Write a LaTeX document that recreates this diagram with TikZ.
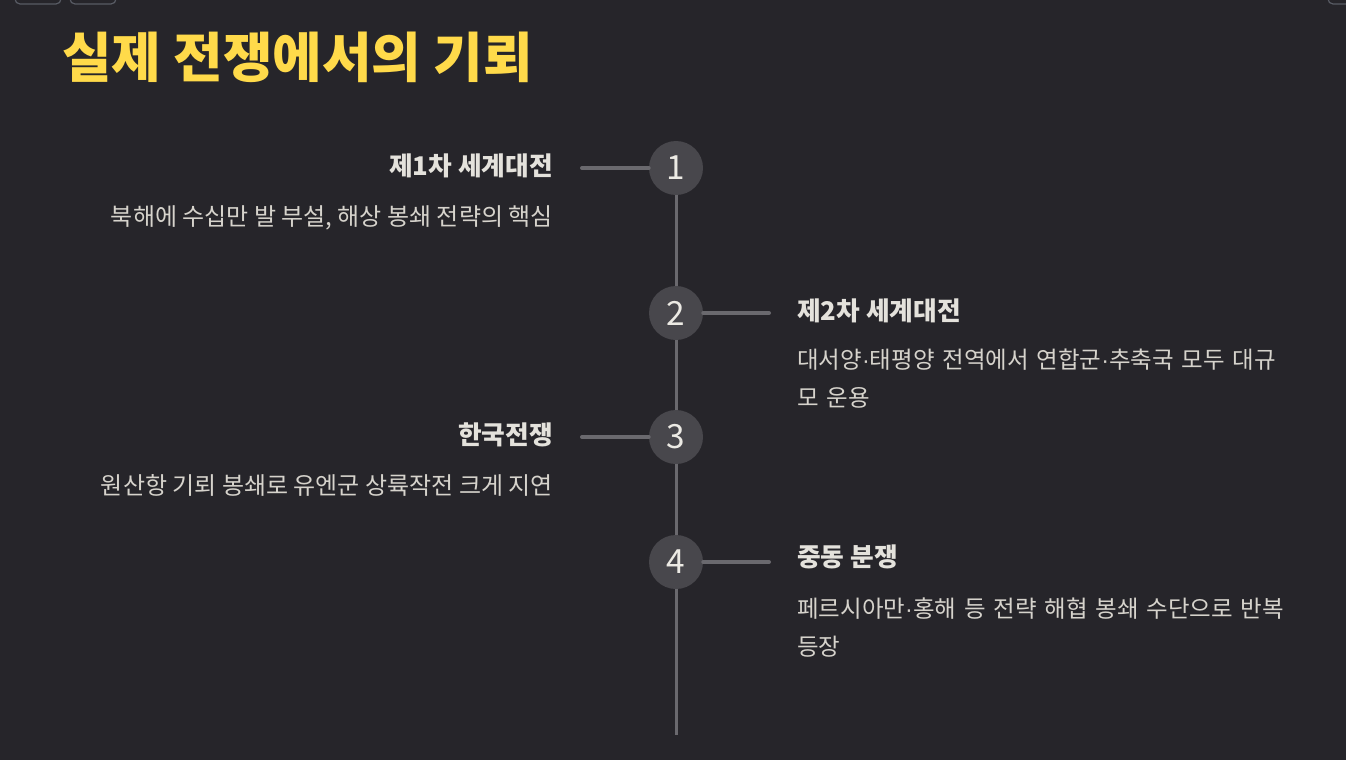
\documentclass[tikz,border=0pt]{standalone}
\usepackage{fontspec}
\setmainfont{Noto Sans CJK KR}
\newfontfamily\mdfont{Liberation Sans}
\newcommand\mdot{{\mdfont ·}}
\definecolor{bg}{RGB}{38,37,42}
\definecolor{ttl}{RGB}{255,218,74}
\definecolor{lbl}{RGB}{228,226,220}
\definecolor{dsc}{RGB}{214,211,204}
\definecolor{circ}{RGB}{72,71,76}
\definecolor{ln}{RGB}{106,105,110}
\definecolor{btn}{RGB}{88,91,100}
\definecolor{num}{RGB}{236,234,228}
\begin{document}
\begin{tikzpicture}[x=0.75pt,y=-0.75pt,
  dot/.style={circle,fill=circ,minimum size=40.5pt,inner sep=0pt,text=num,font=\fontsize{25}{25}\selectfont},
  ltitle/.style={anchor=base east,inner sep=0pt,text=lbl,font=\fontsize{19.3}{19.3}\selectfont\bfseries},
  rtitle/.style={anchor=base west,inner sep=0pt,text=lbl,font=\fontsize{19.3}{19.3}\selectfont\bfseries},
  ldesc/.style={anchor=base east,inner sep=0pt,text=dsc,font=\fontsize{18}{28.5}\selectfont},
  rdesc/.style={anchor=base west,inner sep=0pt,text=dsc,text width=400pt,align=left,font=\fontsize{17.6}{28.5}\selectfont},
  tline/.style={draw=ln,line width=2.25pt},
  hline/.style={draw=ln,line width=3pt,line cap=round}]
\fill[bg] (0,0) rectangle (1346,760);
\useasboundingbox (0,0) rectangle (1346,760);
\begin{scope}
\clip (0,0) rectangle (1346,760);
\draw[btn,line width=0.9pt,rounded corners=3.75pt] (15,-12) rectangle (61,4);
\draw[btn,line width=0.9pt,rounded corners=3.75pt] (70,-12) rectangle (116,4);
\draw[btn,line width=0.9pt,rounded corners=3.75pt] (1328,-12) rectangle (1360,4);
\end{scope}
\node[anchor=base west,inner sep=0pt,text=ttl,font=\fontsize{40.4}{40.4}\selectfont\bfseries] (title) at (62,77) {실제 전쟁에서의 기뢰};
% circles
\coordinate (end) at (676,735);
\node[dot] (c1) at (676,168) {1};
\node[dot] (c2) at (676,313) {2};
\node[dot] (c3) at (676,437) {3};
\node[dot] (c4) at (676,562) {4};
\path[tline] (c1.south) -- (c2.north) (c2.south) -- (c3.north) (c3.south) -- (c4.north) (c4.south) -- (end);
% connector endpoints
\coordinate (h1) at (582,168);
\coordinate (h2) at (769,313);
\coordinate (h3) at (582,437);
\coordinate (h4) at (769,562);
\path[hline] (h1) -- (c1.west);
\path[hline] (c2.east) -- (h2);
\path[hline] (h3) -- (c3.west);
\path[hline] (c4.east) -- (h4);
% texts
\node[ltitle] (t1) at (553,175) {제1차 세계대전};
\node[ldesc] (d1) at (553,225) {북해에 수십만 발 부설, 해상 봉쇄 전략의 핵심};
\node[rtitle] (t2) at (797,320) {제2차 세계대전};
\node[rdesc] (d2) at (797,368) {대서양\mdot 태평양 전역에서 연합군\mdot 추축국 모두 대규\\모 운용};
\node[ltitle] (t3) at (553,444) {한국전쟁};
\node[ldesc] (d3) at (553,494) {원산항 기뢰 봉쇄로 유엔군 상륙작전 크게 지연};
\node[rtitle] (t4) at (797,566) {중동 분쟁};
\node[rdesc] (d4) at (797,617) {페르시아만\mdot 홍해 등 전략 해협 봉쇄 수단으로 반복\\등장};
\end{tikzpicture}
\end{document}
